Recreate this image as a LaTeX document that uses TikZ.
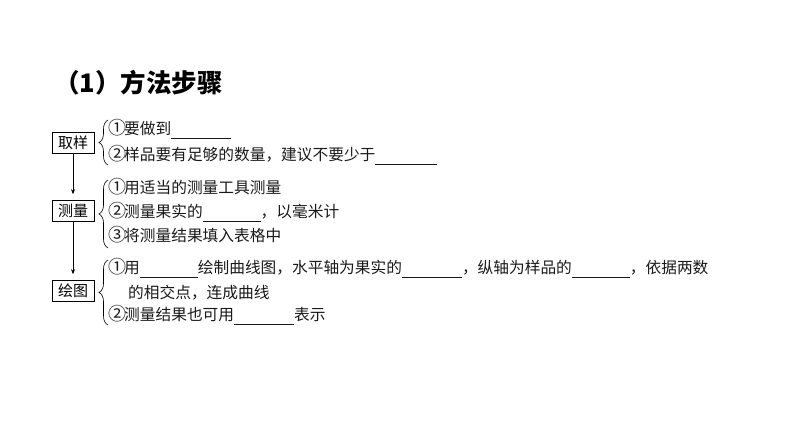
\documentclass[tikz,border=0pt]{standalone}
\usepackage{fontspec}
\newfontfamily\cjk{Noto Sans CJK SC}
\usetikzlibrary{decorations.pathreplacing,arrows.meta}
\newcommand\blk[1]{\rule[-4pt]{#1pt}{0.7pt}}
\newcommand\cn[1]{\makebox[16pt][l]{\fontsize{18}{18}\selectfont\raisebox{-0.5pt}{#1}}}
\begin{document}
\begin{tikzpicture}[x=1pt,y=-1pt,
  txt/.style={anchor=west,inner sep=0pt,font=\cjk\fontsize{15.7}{15.7}\selectfont,text=black!90},
  stepbox/.style={draw,line width=0.7pt,minimum width=42pt,minimum height=21pt,inner sep=0pt,font=\cjk\fontsize{15}{15}\selectfont},
  brc/.style={decorate,decoration={brace,amplitude=9pt},line width=0.6pt},
  arr/.style={-{Stealth[length=5pt,width=4pt]},line width=0.6pt,shorten >=6pt}]
\useasboundingbox (0,0) rectangle (794,447);
\node[anchor=west,inner sep=0pt,font=\cjk\bfseries\fontsize{25.5}{25.5}\selectfont] (title) at (54,83) {（1）方法步骤};
\node[stepbox] (b1) at (73,143) {取样};
\node[stepbox] (b2) at (73,211) {测量};
\node[stepbox] (b3) at (73,291) {绘图};
\draw[arr] (b1.south) -- (b2.north);
\draw[arr] (b2.south) -- (b3.north);
\coordinate (r1t) at (108,120); \coordinate (r1b) at (108,165);
\coordinate (r2t) at (108,180); \coordinate (r2b) at (108,248);
\coordinate (r3t) at (108,260); \coordinate (r3b) at (108,325);
\draw[brc] (r1b) -- (r1t);
\draw[brc] (r2b) -- (r2t);
\draw[brc] (r3b) -- (r3t);
\node[txt] (t11) at (108,129) {\cn{①}要做到\blk{60}};
\node[txt] (t12) at (108,155) {\cn{②}样品要有足够的数量，建议不要少于\blk{62}};
\node[txt] (t21) at (108,187) {\cn{①}用适当的测量工具测量};
\node[txt] (t22) at (108,212) {\cn{②}测量果实的\blk{58}，以毫米计};
\node[txt] (t23) at (108,235) {\cn{③}将测量结果填入表格中};
\node[txt] (t31) at (108,268) {\cn{①}用\blk{58}绘制曲线图，水平轴为果实的\blk{60}，纵轴为样品的\blk{58}，依据两数};
\node[txt] (t32) at (128,293) {的相交点，连成曲线};
\node[txt] (t33) at (108,315) {\cn{②}测量结果也可用\blk{60}表示};
\end{tikzpicture}
\end{document}
